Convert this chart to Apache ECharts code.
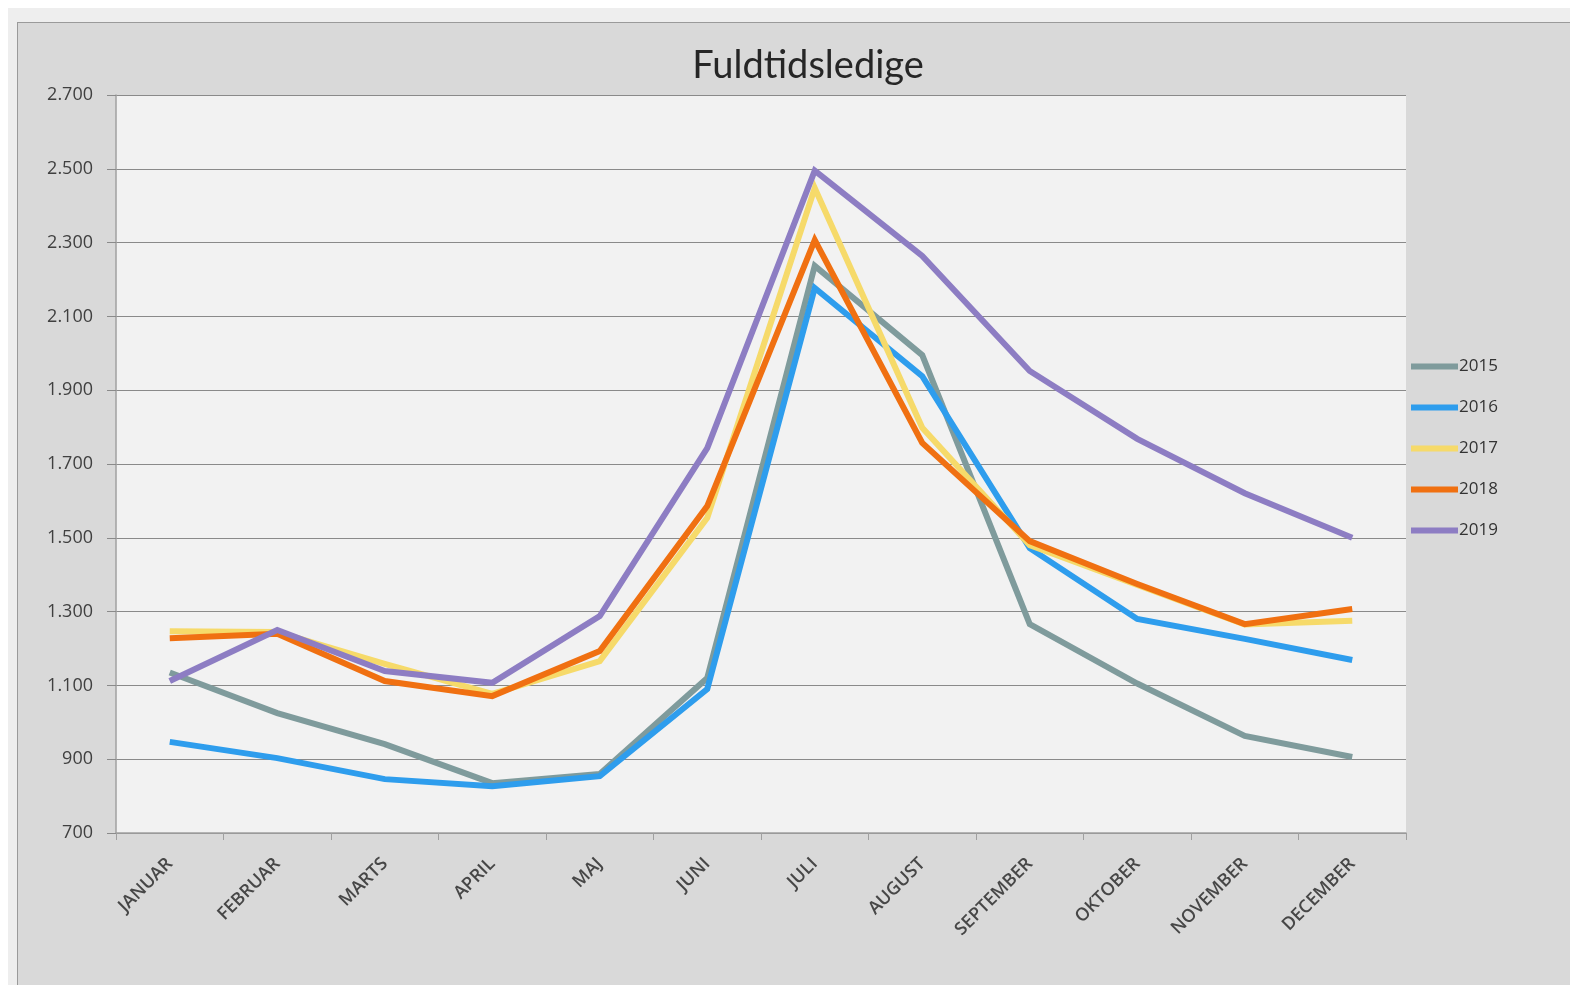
<!DOCTYPE html>
<html>
<head>
<meta charset="utf-8">
<script src="https://cdn.jsdelivr.net/npm/echarts@6/dist/echarts.min.js"></script>
<style>
html,body{margin:0;padding:0;background:#fff;width:1570px;height:985px;overflow:hidden;}
#outer{position:absolute;left:8px;top:8px;width:1600px;height:1000px;background:#eeeeee;}
#chart{position:absolute;left:17px;top:22px;width:1570px;height:985px;background:#d9d9d9;border-left:1px solid #9a9a9a;border-top:1px solid #9a9a9a;box-sizing:border-box;}
</style>
</head>
<body>
<div id="outer"></div>
<div id="chart"></div>
<script>
const months = ['JANUAR','FEBRUAR','MARTS','APRIL','MAJ','JUNI','JULI','AUGUST','SEPTEMBER','OKTOBER','NOVEMBER','DECEMBER'];
const years = ['2015','2016','2017','2018','2019'];
const v2015 = [1135,1025,941,835,860,1120,2237,1995,1266,1105,963,906];
const v2016 = [947,903,846,827,854,1090,2177,1938,1472,1280,1226,1169];
const v2017 = [1247,1245,1158,1077,1166,1554,2448,1798,1480,1372,1265,1275];
const v2018 = [1228,1240,1112,1071,1193,1586,2307,1757,1491,1375,1266,1307];
const v2019 = [1112,1250,1139,1107,1288,1743,2495,2264,1952,1768,1621,1500];
const yTicks = {min:700, max:2700, interval:200};

const colors = ['#7f9b9c','#2e9ded','#f6da6a','#f07011','#8d7dc3'];
const values = [v2015,v2016,v2017,v2018,v2019];

const el = document.getElementById('chart');
const chart = echarts.init(el, null, {width:1570-17, height:985-22});
const fmt = v => String(v).replace(/\B(?=(\d{3})+(?!\d))/g, '.');

chart.setOption({
  animation:false,
  backgroundColor:'transparent',
  title:{
    text:'Fuldtidsledige', left:802-17, top:19, textAlign:'center',
    textStyle:{fontFamily:'Lato', fontSize:38, fontWeight:'normal', color:'#262626'}
  },
  legend:{
    orient:'vertical', left:1405-17, top:352-22,
    itemWidth:47, itemHeight:6, itemGap:24,
    icon:'rect',
    textStyle:{fontFamily:'Open Sans', fontSize:17, color:'#333', padding:[0,0,0,-4]},
    data:years
  },
  grid:{
    left:115-17, right:1570-1405, top:94-22, bottom:985-832,
    show:true, backgroundColor:'#f2f2f2', borderWidth:0
  },
  xAxis:{
    type:'category', data:months, boundaryGap:true,
    axisLine:{lineStyle:{color:'#a0a0a0', width:1.5}},
    axisTick:{show:true, length:7, lineStyle:{color:'#a0a0a0'}},
    axisLabel:{rotate:45, margin:28, fontFamily:'Open Sans', fontSize:18, color:'#474747', fontWeight:600}
  },
  yAxis:{
    type:'value', min:yTicks.min, max:yTicks.max, interval:yTicks.interval,
    axisLine:{show:true, lineStyle:{color:'#a0a0a0', width:1.5}},
    axisTick:{show:true, length:9, lineStyle:{color:'#8a8a8a'}},
    axisLabel:{formatter:fmt, margin:23, fontFamily:'Open Sans', fontSize:18, color:'#404040'},
    splitLine:{lineStyle:{color:'#8a8a8a', width:1.2}}
  },
  series: years.map((y,i)=>({
    name:y, type:'line', data:values[i],
    showSymbol:false, symbol:'none',
    lineStyle:{color:colors[i], width:6, join:'miter'},
    itemStyle:{color:colors[i]}
  }))
});
</script>
</body>
</html>
